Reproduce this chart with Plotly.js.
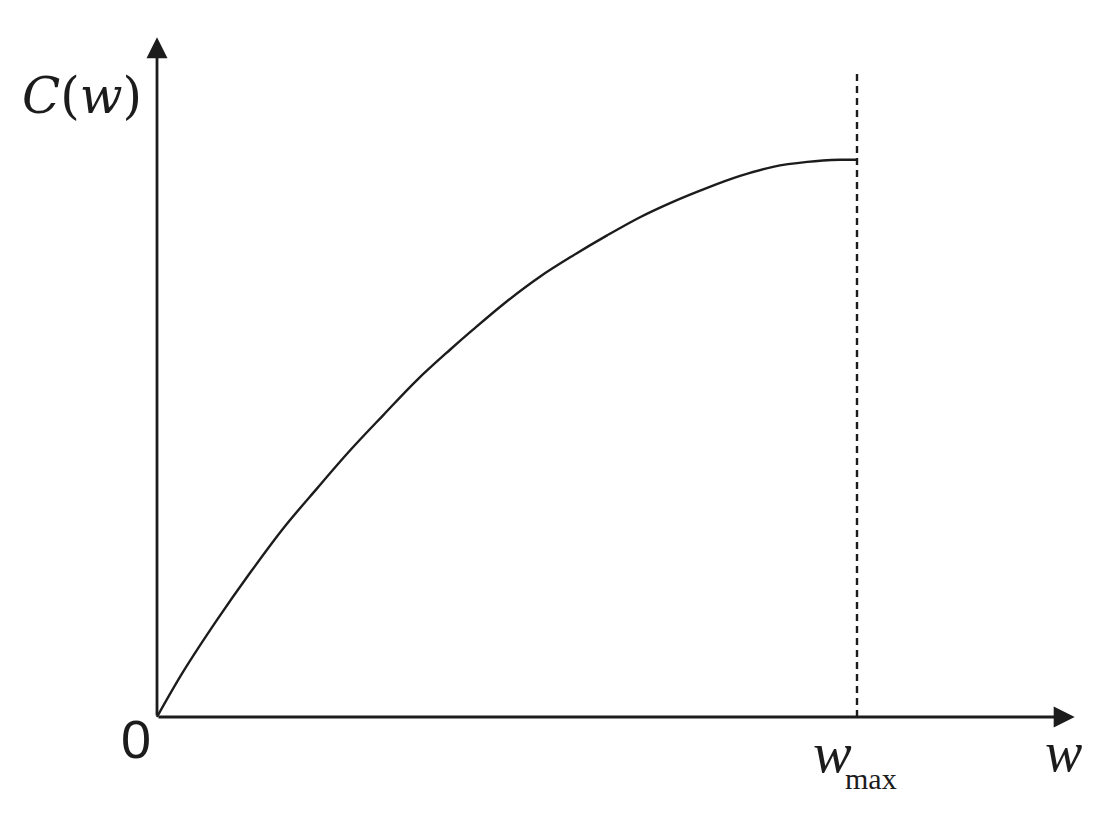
<!DOCTYPE html>
<html><head><meta charset="utf-8">
<script src="https://cdn.plot.ly/plotly-3.0.1.min.js"></script>
<style>html,body{margin:0;padding:0;background:#fff}</style>
</head><body><div id="chart" style="width:1117px;height:820px"></div>
<script>
// Curve C(w) (w in units where w_max = 10)
const wValues = [0, 0.37, 0.86, 1.33, 1.80, 2.29, 2.76, 3.23, 3.71, 4.19, 4.51, 5.00, 5.47, 5.94, 6.43, 6.90, 7.37, 7.86, 8.33, 8.80, 9.29, 9.76, 10.0];
const cValues = [0, 0.64, 1.39, 2.06, 2.69, 3.27, 3.81, 4.31, 4.81, 5.25, 5.53, 5.94, 6.29, 6.59, 6.88, 7.14, 7.36, 7.56, 7.73, 7.86, 7.93, 7.96, 7.96];
const wMax = 10;
const dashTop = 9.21;
const xAxisEnd = 13.11;
const yAxisEnd = 9.71;
const labelY = "C(w)";
const labelOrigin = "0";
const labelX = "w";
const labelWmax = "max";

const ink = '#1c1c1c';
const W = 1117, H = 820;
const ox = 157, oy = 717, s = 70; // pixel scale for axis ranges
const xr = [-ox / s, (W - ox) / s];
const yr = [-(H - oy) / s, oy / s];

const traces = [{
  x: wValues, y: cValues, type: 'scatter', mode: 'lines',
  line: {color: ink, width: 2.4, shape: 'spline', smoothing: 1},
  hoverinfo: 'skip', showlegend: false
}];

function px(x){return x / W;}
function py(y){return 1 - y / H;}

const layout = {
  width: W, height: H,
  margin: {l: 0, r: 0, t: 0, b: 0},
  paper_bgcolor: '#fff', plot_bgcolor: '#fff',
  showlegend: false,
  xaxis: {range: xr, visible: false, fixedrange: true},
  yaxis: {range: yr, visible: false, fixedrange: true},
  shapes: [
    {type: 'line', xref: 'x', yref: 'y', x0: wMax, x1: wMax, y0: 0, y1: dashTop,
     line: {color: ink, width: 2.4, dash: '7px,5px'}}
  ],
  annotations: [
    {xref: 'x', yref: 'y', axref: 'x', ayref: 'y', x: 0, y: yAxisEnd, ax: 0, ay: 0,
     text: '', showarrow: true, arrowhead: 2, arrowsize: 1.5, arrowwidth: 2.8, arrowcolor: ink, font: {size: 1}},
    {xref: 'x', yref: 'y', axref: 'x', ayref: 'y', x: xAxisEnd, y: 0, ax: 0, ay: 0,
     text: '', showarrow: true, arrowhead: 2, arrowsize: 1.5, arrowwidth: 2.8, arrowcolor: ink, font: {size: 1}},
    {xref: 'paper', yref: 'paper', x: px(82), y: py(96), xanchor: 'center', yanchor: 'middle', showarrow: false,
     text: '<i>' + labelY[0] + '</i>(<i>' + labelY[2] + '</i>)', font: {family: 'DejaVu Serif', size: 50, color: ink}},
    {xref: 'paper', yref: 'paper', x: px(136), y: py(739), xanchor: 'center', yanchor: 'middle', showarrow: false,
     text: labelOrigin, font: {family: 'Liberation Sans', size: 54, color: ink}},
    {xref: 'paper', yref: 'paper', x: px(832), y: py(752), xanchor: 'center', yanchor: 'middle', showarrow: false,
     text: '<i>' + labelX + '</i>', font: {family: 'Liberation Serif', size: 58, color: ink}},
    {xref: 'paper', yref: 'paper', x: px(871), y: py(778), xanchor: 'center', yanchor: 'middle', showarrow: false,
     text: labelWmax, font: {family: 'Liberation Serif', size: 30, color: ink}},
    {xref: 'paper', yref: 'paper', x: px(1063), y: py(752), xanchor: 'center', yanchor: 'middle', showarrow: false,
     text: '<i>' + labelX + '</i>', font: {family: 'Liberation Serif', size: 56, color: ink}}
  ]
};

Plotly.newPlot('chart', traces, layout, {staticPlot: true, displayModeBar: false});
</script>
</body></html>
